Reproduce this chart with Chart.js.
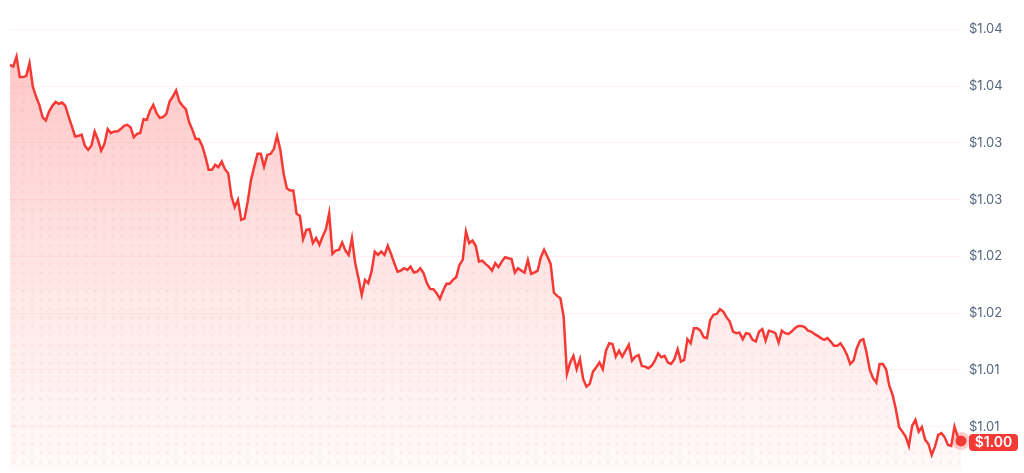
<!DOCTYPE html>
<html>
<head>
<meta charset="utf-8">
<script src="https://cdn.jsdelivr.net/npm/chart.js@4"></script>
<style>
html,body{margin:0;padding:0;background:#fff;overflow:hidden;}
canvas{display:block;}
</style>
</head>
<body>
<canvas id="c" width="1024" height="473" style="width:1024px;height:473px"></canvas>
<script>
const prices = [
1.03687,1.03672,1.03760,1.03579,1.03579,1.03590,1.03702,1.03496,1.03408,1.03335,
1.03227,1.03197,1.03276,1.03326,1.03361,1.03344,1.03355,1.03326,1.03232,1.03144,
1.03056,1.03062,1.03073,1.02974,1.02939,1.02974,1.03100,1.03027,1.02932,1.02991,
1.03121,1.03086,1.03100,1.03100,1.03121,1.03150,1.03159,1.03138,1.03050,1.03079,
1.03086,1.03209,1.03203,1.03285,1.03335,1.03262,1.03220,1.03227,1.03256,1.03364,
1.03408,1.03461,1.03364,1.03326,1.03297,1.03181,1.03115,1.03033,1.03033,
1.02974,1.02880,1.02762,1.02762,1.02806,1.02786,1.02835,1.02768,1.02733,1.02527,
1.02434,1.02498,1.02322,1.02333,1.02483,1.02674,1.02791,1.02903,1.02903,1.02791,
1.02894,1.02903,1.02945,1.03062,1.02939,1.02733,1.02601,1.02580,1.02580,1.02375,
1.02357,1.02152,1.02234,1.02240,1.02117,1.02161,1.02102,1.02175,1.02240,1.02381,
1.02022,1.02051,1.02058,1.02122,1.02051,1.02013,1.02161,1.01940,1.01808,1.01661,
1.01793,1.01764,1.01866,1.02042,1.02013,1.02042,1.02013,1.02093,
1.02022,1.01940,1.01866,1.01875,1.01896,1.01881,1.01910,1.01858,1.01866,1.01896,
1.01852,1.01764,1.01714,1.01711,1.01676,1.01626,1.01699,1.01758,1.01758,1.01793,
1.01817,1.01925,1.01969,1.02219,1.02117,1.02139,1.02093,1.01954,1.01963,1.01934,
1.01910,1.01875,1.01940,1.01905,1.01954,1.01993,1.01984,1.01976,1.01858,1.01896,
1.01875,1.01858,1.01969,1.01846,1.01858,1.01875,1.01993,1.02058,1.01999,1.01934,
1.01681,1.01652,1.01632,1.01470,1.00965,1.01065,1.01124,1.01006,
1.01095,1.00918,1.00853,1.00877,1.00985,1.01024,1.01065,1.01006,1.01170,1.01235,
1.01229,1.01117,1.01170,1.01117,1.01170,1.01221,1.01082,1.01117,1.01132,1.01036,
1.01029,1.01015,1.01036,1.01082,1.01147,1.01112,1.01124,1.01065,1.01053,1.01095,
1.01183,1.01073,1.01088,1.01271,1.01235,1.01368,1.01368,1.01346,1.01288,1.01280,
1.01441,1.01485,1.01494,1.01535,1.01514,1.01465,1.01426,1.01338,1.01324,1.01329,
1.01271,1.01324,1.01317,1.01265,1.01250,1.01338,1.01359,1.01258,1.01346,
1.01338,1.01324,1.01241,1.01346,1.01324,1.01317,1.01338,1.01368,1.01388,1.01388,
1.01377,1.01346,1.01338,1.01317,1.01300,1.01280,1.01265,1.01280,1.01250,1.01212,
1.01212,1.01235,1.01191,1.01132,1.01053,1.01082,1.01191,1.01258,1.01271,1.01153,
1.01000,1.00927,1.00888,1.01053,1.01053,1.01006,1.00859,1.00780,1.00654,1.00496,
1.00457,1.00413,1.00331,1.00507,1.00560,1.00457,1.00496,1.00384,1.00348,1.00251,
1.00325,1.00428,1.00443,1.00407,1.00340,1.00331,1.00501,1.00413,1.00375
];
const categories = prices.map((_, i) => i);
const tickValues = [1.005, 1.01, 1.015, 1.02, 1.025, 1.03, 1.035, 1.04];
const tickLabels = ['$1.01', '$1.01', '$1.02', '$1.02', '$1.03', '$1.03', '$1.04', '$1.04'];
const currentLabel = '$1.00';

const RED = '#f53a36';
let fillCache = null;
function makeFill(chart) {
  const ca = chart.chartArea;
  if (!ca) return 'rgba(242,58,58,0.15)';
  const key = chart.width + 'x' + chart.height + ':' + ca.top + ':' + ca.bottom;
  if (fillCache && fillCache.key === key) return fillCache.pat;
  const off = document.createElement('canvas');
  off.width = chart.width; off.height = chart.height;
  const o = off.getContext('2d');
  const yTop = chart.scales.y.getPixelForValue(Math.max(...prices));
  const g = o.createLinearGradient(0, yTop, 0, ca.bottom);
  g.addColorStop(0, 'rgba(255,70,70,0.30)');
  g.addColorStop(0.5, 'rgba(255,70,70,0.14)');
  g.addColorStop(1, 'rgba(255,70,70,0.03)');
  o.fillStyle = g;
  o.fillRect(0, 0, off.width, off.height);
  o.fillStyle = 'rgba(255,80,80,0.08)';
  for (let y = ca.top + 2; y < ca.bottom; y += 9) {
    for (let x = ca.left + 4; x < ca.right; x += 9) {
      o.beginPath(); o.arc(x, y, 1.5, 0, Math.PI * 2); o.fill();
    }
  }
  const pat = chart.ctx.createPattern(off, 'no-repeat');
  fillCache = { key, pat };
  return pat;
}

const lastPointPlugin = {
  id: 'lastPoint',
  afterDatasetsDraw(chart) {
    const ctx = chart.ctx;
    const meta = chart.getDatasetMeta(0);
    const pt = meta.data[meta.data.length - 1];
    const x = pt.x, y = pt.y;
    ctx.save();
    ctx.fillStyle = 'rgba(245,58,54,0.25)';
    ctx.beginPath(); ctx.arc(x, y, 9, 0, Math.PI * 2); ctx.fill();
    ctx.fillStyle = RED;
    ctx.beginPath(); ctx.arc(x, y, 5.5, 0, Math.PI * 2); ctx.fill();
    const bx = chart.chartArea.right + 8, bw = 49, bh = 17;
    const by = y + 1.5 - bh / 2;
    ctx.fillStyle = RED;
    ctx.beginPath();
    ctx.roundRect(bx, by, bw, bh, 4);
    ctx.fill();
    ctx.fillStyle = '#fff';
    ctx.font = '600 14px Inter, "Noto Sans", sans-serif';
    ctx.textAlign = 'center';
    ctx.textBaseline = 'middle';
    ctx.fillText(currentLabel, bx + bw / 2, by + bh / 2 + 0.5);
    ctx.restore();
  }
};

new Chart(document.getElementById('c'), {
  type: 'line',
  data: {
    labels: categories,
    datasets: [{
      data: prices,
      borderColor: RED,
      borderWidth: 2.5,
      pointRadius: 0,
      tension: 0,
      fill: 'start',
      backgroundColor: (ctx) => makeFill(ctx.chart)
    }]
  },
  options: {
    responsive: false,
    animation: false,
    devicePixelRatio: 1,
    layout: { padding: { left: 10, top: 10, bottom: 2, right: 0 } },
    plugins: { legend: { display: false }, tooltip: { enabled: false } },
    scales: {
      x: { display: false, offset: false },
      y: {
        position: 'right',
        min: 1.0011,
        max: 1.0417,
        afterBuildTicks: (scale) => { scale.ticks = tickValues.map(v => ({ value: v })); },
        afterFit: (scale) => { scale.width = 63; scale.paddingTop = 0; scale.paddingBottom = 0; },
        border: { display: false },
        grid: { color: 'rgba(255,60,60,0.07)', drawTicks: false, lineWidth: 1 },
        ticks: {
          padding: 8,
          color: '#58667e',
          font: { family: 'Inter, "Noto Sans", sans-serif', size: 13 },
          callback: (value) => {
            const i = tickValues.findIndex(v => Math.abs(v - value) < 1e-6);
            return i >= 0 ? tickLabels[i] : '';
          }
        }
      }
    }
  },
  plugins: [lastPointPlugin]
});
</script>
</body>
</html>
